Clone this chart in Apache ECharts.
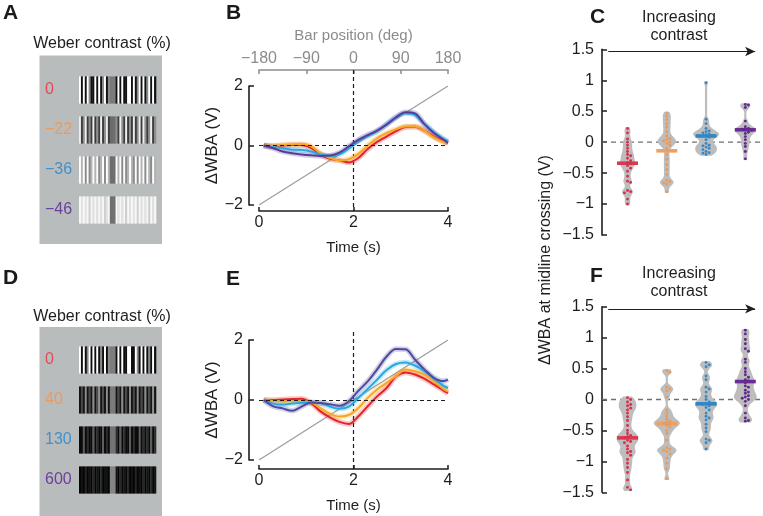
<!DOCTYPE html>
<html><head><meta charset="utf-8">
<script src="https://cdn.jsdelivr.net/npm/echarts@6/dist/echarts.min.js"></script>
<style>html,body{margin:0;padding:0;background:#fff}#c{width:763px;height:516px}</style>
</head><body><div id="c"></div>
<script>
const FONT = "'Liberation Sans', Arial, Helvetica, sans-serif";

// ---------- Panel A / D : stimulus patterns ----------
const contrastA = ['0', '\u221222', '\u221236', '\u221246'];
const contrastD = ['0', '40', '130', '600'];
const patternsA = [
  '2020210020201201bbb020200220201202012020',
  '2012010201020120bbb102102010201202101201',
  '2120201212012021bbb212020121020212021021',
  '2121202121212012bbb212120212120212120212'
];
const patternsD = [
  '2020120202010201bbb020200220021020201020',
  '0102010201201020bbb010201020102010201020',
  '0020100201002010bbb102010020100201010201',
  '0102010201020110bbb102010201020102010201'
];

// ---------- Panel B / E : traces ----------
const timeS = [0.1,0.3,0.5,0.7,0.9,1.1,1.3,1.5,1.7,1.9,2.1,2.3,2.5,2.7,2.9,3.1,3.3,3.5,3.7,3.9,4.0];
const diagLine = [[0, -2], [4, 2]];
const bRed    = [0,-0.02,0,0.02,0.02,-0.08,-0.3,-0.45,-0.5,-0.57,-0.42,-0.12,0.12,0.3,0.48,0.62,0.63,0.5,0.3,0.14,0.1];
const bOrange = [0,0,0.02,0.04,0.05,-0.02,-0.26,-0.42,-0.5,-0.46,-0.28,0,0.25,0.42,0.55,0.64,0.64,0.5,0.27,0.12,0.08];
const bCyan   = [0,-0.05,-0.09,-0.14,-0.15,-0.2,-0.3,-0.35,-0.3,-0.1,0.15,0.32,0.48,0.72,0.95,1.08,1.02,0.72,0.45,0.22,0.14];
const bPurple = [0,-0.09,-0.2,-0.26,-0.3,-0.33,-0.35,-0.34,-0.24,-0.03,0.19,0.35,0.5,0.7,0.95,1.12,1.08,0.72,0.42,0.2,0.08];
const eRed    = [0,0,0.02,0.03,0.04,-0.1,-0.38,-0.58,-0.73,-0.8,-0.55,-0.21,0.12,0.4,0.79,0.92,0.85,0.71,0.52,0.32,0.23];
const eOrange = [0,-0.03,-0.05,-0.04,-0.04,-0.08,-0.27,-0.46,-0.55,-0.5,-0.27,0.07,0.35,0.57,0.79,1.02,0.96,0.85,0.63,0.37,0.28];
const eCyan   = [0,-0.12,-0.15,-0.12,-0.09,-0.08,-0.1,-0.22,-0.29,-0.22,0.07,0.37,0.68,1.0,1.2,1.25,1.15,0.96,0.71,0.48,0.4];
const ePurple = [0,-0.21,-0.28,-0.36,-0.22,-0.08,-0.1,-0.14,-0.19,-0.04,0.3,0.62,1.02,1.45,1.7,1.69,1.35,1.02,0.74,0.63,0.68];

// ---------- Panel C / F : midline crossing values ----------
const cRed = [0.22,0.15,0.05,0.0,-0.05,-0.1,-0.15,-0.2,-0.22,-0.26,-0.3,-0.33,-0.35,-0.38,-0.42,-0.47,-0.55,-0.63,-0.65,-0.78,-0.8,-0.82,-0.92,-1.0];
const cOrange = [0.47,0.42,0.36,0.3,0.24,0.17,0.1,0.06,0.04,0.02,0.0,-0.02,-0.05,-0.1,-0.2,-0.28,-0.36,-0.44,-0.52,-0.62,-0.64,-0.66,-0.68,-0.8];
const cBlue = [0.96,0.37,0.3,0.22,0.18,0.17,0.15,0.13,0.12,0.11,0.1,0.08,0.04,-0.02,-0.05,-0.06,-0.08,-0.1,-0.12,-0.15,-0.17,-0.18,-0.2];
const cPurple = [0.61,0.6,0.56,0.34,0.25,0.22,0.21,0.2,0.19,0.16,0.14,0.09,0.04,-0.02,-0.07,-0.15,-0.27];
const cMeans = [-0.34, -0.14, 0.1, 0.2];
const fRed = [0.03,0.0,-0.04,-0.08,-0.1,-0.14,-0.17,-0.22,-0.28,-0.34,-0.42,-0.5,-0.55,-0.58,-0.6,-0.62,-0.66,-0.68,-0.7,-0.75,-0.8,-0.84,-0.86,-0.9,-0.97,-1.03,-1.1,-1.18,-1.3,-1.42,-1.46];
const fOrange = [0.47,0.44,0.2,0.17,0.14,0.04,-0.17,-0.22,-0.27,-0.32,-0.35,-0.37,-0.38,-0.4,-0.42,-0.45,-0.5,-0.55,-0.66,-0.78,-0.8,-0.82,-0.84,-0.88,-0.95,-1.03,-1.12,-1.28];
const fBlue = [0.6,0.56,0.53,0.38,0.32,0.2,0.17,0.12,0.05,0.0,-0.04,-0.06,-0.08,-0.1,-0.13,-0.17,-0.22,-0.27,-0.3,-0.33,-0.4,-0.46,-0.52,-0.64,-0.66,-0.7,-0.8];
const fPurple = [1.12,1.06,0.97,0.9,0.82,0.78,0.65,0.6,0.5,0.45,0.4,0.36,0.32,0.3,0.27,0.22,0.2,0.15,0.12,0.1,0.06,0.04,0.02,0.0,-0.03,-0.1,-0.22,-0.3,-0.34,-0.35];
const fMeans = [-0.62, -0.39, -0.07, 0.29];
const arrowSpan = [[0.51, 1.465], [4.25, 1.465]];

// ---------- styles ----------
const palA = [
  ['#111111','#8c8c8c','#ffffff','#7a7a7a'],
  ['#3d3d3d','#8f8f8f','#eeeeee','#6c6c6c'],
  ['#8a8a8a','#b4b4b4','#fdfdfd','#6e6e6e'],
  ['#cfcfcf','#e2e2e2','#f7f7f7','#6f6f6f']
];
const palD = [
  ['#0e0e0e','#8a8a8a','#ffffff','#7c7c7c'],
  ['#141414','#4a4a4a','#8e8e8e','#7a7a7a'],
  ['#0b0b0b','#2e2e2e','#5e5e5e','#737373'],
  ['#060606','#131313','#272727','#858585']
];
const labelColors = ['#e34a55','#f09a5a','#3f91cb','#6a3f9c'];
const dotColors = ['#d5304b','#e79b5f','#3a88c3','#5e2a8c'];
const barColors = ['#d93a50','#eea060','#2c87c9','#6a2c99'];
const ink = '#1e1e1e';

function minus(v) { return String(v).replace('-', '\u2212'); }

function stripeData(patterns) {
  const out = [];
  patterns.forEach((p, r) => {
    for (let i = 0; i < p.length; i++) {
      const ch = p[i];
      out.push([i, r, ch === 'b' ? 3 : Number(ch)]);
    }
  });
  return out;
}
function stripeRender(pal) {
  return function (params, api) {
    const i = api.value(0), r = api.value(1), code = api.value(2);
    const p0 = api.coord([i, r]);
    const p1 = api.coord([i + 1, r]);
    const bh = api.size([0, 1])[1] * 0.68;
    return {type: 'rect', shape: {x: p0[0], y: p0[1] - bh / 2, width: p1[0] - p0[0] + 0.3, height: bh},
      style: {fill: pal[r][code]}};
  };
}

function timeAxis(gi, off) {
  return {gridIndex: gi, type: 'value', min: 0, max: 4, interval: 2, position: 'bottom', offset: off,
    axisLine: {show: true, onZero: false, lineStyle: {color: ink, width: 1.6}},
    axisTick: {show: true, inside: true, length: 4, lineStyle: {color: ink, width: 1.5}},
    axisLabel: {fontSize: 16, color: ink, margin: 4, fontFamily: FONT},
    splitLine: {show: false},
    name: 'Time (s)', nameLocation: 'middle', nameGap: 29,
    nameTextStyle: {fontSize: 15, color: ink, fontFamily: FONT}};
}
function wbaAxis(gi) {
  return {gridIndex: gi, type: 'value', min: -2, max: 2, interval: 2, offset: 10,
    axisLine: {show: true, onZero: false, lineStyle: {color: ink, width: 1.6}},
    axisTick: {show: true, inside: true, length: 5, lineStyle: {color: ink, width: 1.5}},
    axisLabel: {fontSize: 16, color: ink, margin: 6, fontFamily: FONT, formatter: minus},
    splitLine: {show: false},
    name: '\u0394WBA (V)', nameLocation: 'middle', nameGap: 28,
    nameTextStyle: {fontSize: 17, color: ink, fontFamily: FONT}};
}
function crossAxis(gi) {
  return {gridIndex: gi, type: 'value', min: -1.5, max: 1.5, interval: 0.5,
    axisLine: {show: true, onZero: false, lineStyle: {color: ink, width: 1.6}},
    axisTick: {show: true, inside: true, length: 5, lineStyle: {color: ink, width: 1.5}},
    axisLabel: {fontSize: 16, color: ink, margin: 8, fontFamily: FONT, formatter: minus},
    splitLine: {show: false}};
}
function stripeYAxis(gi, cats) {
  return {gridIndex: gi, type: 'category', data: cats, inverse: true,
    axisLine: {show: false}, axisTick: {show: false}, splitLine: {show: false},
    axisLabel: {fontSize: 16, align: 'left', margin: 34, fontFamily: FONT,
      color: function (v, idx) { return labelColors[idx]; }}};
}

function traceSeries(xi, yi, arr, color) {
  const data = timeS.map((t, k) => [t, arr[k]]);
  return [
    {type: 'line', xAxisIndex: xi, yAxisIndex: yi, data: data, showSymbol: false, smooth: 0.35,
      lineStyle: {color: color, width: 5.5, opacity: 0.25}, z: 3, silent: true},
    {type: 'line', xAxisIndex: xi, yAxisIndex: yi, data: data, showSymbol: false, smooth: 0.35,
      lineStyle: {color: color, width: 2}, z: 4, silent: true}
  ];
}
function referenceSeries(xi, yi) {
  return {type: 'line', xAxisIndex: xi, yAxisIndex: yi, data: diagLine, showSymbol: false,
    lineStyle: {color: '#9c9c9c', width: 1.2}, z: 2, silent: true,
    markLine: {silent: true, symbol: 'none', label: {show: false},
      lineStyle: {color: ink, type: [4, 3], width: 1.2}, data: [{yAxis: 0}]}};
}

function violinSeries(xi, yi, groups, means) {
  const bw = 0.05;
  const dens = groups.map(vals => {
    const lo = Math.min(...vals) - 0.02, hi = Math.max(...vals) + 0.02;
    const pts = [];
    const n = Math.round((hi - lo) / 0.01);
    for (let k = 0; k <= n; k++) {
      const y = lo + (hi - lo) * k / n;
      let d = 0;
      vals.forEach(v => { const u = (y - v) / bw; d += Math.exp(-0.5 * u * u); });
      pts.push([y, d]);
    }
    return pts;
  });
  const maxD = Math.max(...dens.map(p => Math.max(...p.map(q => q[1]))));
  return {
    type: 'custom', xAxisIndex: xi, yAxisIndex: yi, z: 3, silent: true,
    data: means.map((m, i) => [i + 1, m]),
    renderItem: function (params, api) {
      const gi = params.dataIndex;
      const x = api.value(0);
      const cx = api.coord([x, 0])[0];
      const right = [], left = [];
      dens[gi].forEach(([y, d]) => {
        const py = api.coord([x, y])[1];
        const hw = Math.max(1.1, d / maxD * 13);
        right.push([cx + hw, py]); left.push([cx - hw, py]);
      });
      const poly = {type: 'polygon', shape: {points: right.concat(left.reverse())}, style: {fill: '#bdbdbd'}};
      const my = api.coord([x, api.value(1)])[1];
      const bar = {type: 'rect', shape: {x: cx - 10.5, y: my - 1.8, width: 21, height: 3.6}, style: {fill: barColors[gi]}};
      const vals = groups[gi].slice().sort((a, b) => b - a);
      const placed = [], dots = [];
      const r = 1.45, dd = 3.1;
      vals.forEach(v => {
        const py = api.coord([x, v])[1];
        let px = cx;
        for (let n = 0; n < 20; n++) {
          const off = n === 0 ? 0 : (n % 2 ? 1 : -1) * Math.ceil(n / 2) * dd;
          px = cx + off;
          if (!placed.some(p => (p[0] - px) * (p[0] - px) + (p[1] - py) * (p[1] - py) < dd * dd * 0.75)) break;
        }
        placed.push([px, py]);
        dots.push({type: 'circle', shape: {cx: px, cy: py, r: r}, style: {fill: dotColors[gi]}});
      });
      return {type: 'group', children: [poly, bar].concat(dots)};
    }
  };
}
function zeroAndArrow(xi, yi) {
  return {type: 'line', xAxisIndex: xi, yAxisIndex: yi, data: [[0.35, 0], [4.45, 0]], showSymbol: false,
    lineStyle: {color: '#6f6f6f', type: [5, 4], width: 1.3}, z: 1, silent: true,
    markLine: {silent: true, symbol: ['none', 'arrow'], symbolSize: [7, 10], label: {show: false},
      lineStyle: {color: ink, type: 'solid', width: 1.1},
      data: [[{coord: arrowSpan[0]}, {coord: arrowSpan[1]}]]}};
}

const chart = echarts.init(document.getElementById('c'));
const grids = [
  {left: 79, top: 70, width: 77, height: 160},
  {left: 79, top: 340, width: 77, height: 160},
  {left: 259, top: 86, width: 189, height: 119},
  {left: 259, top: 340, width: 189, height: 120},
  {left: 602, top: 49.3, width: 161, height: 185.7},
  {left: 602, top: 306.7, width: 161, height: 185.6}
].map(g => Object.assign({show: false, containLabel: false, outerBoundsMode: 'none'}, g));

const gray = '#8c8c8c';
const baseGraphic = [
  {id: 'boxA', type: 'rect', z: 0, shape: {x: 39.5, y: 55.5, width: 122.5, height: 188.5}, style: {fill: '#b9bcbd'}},
  {id: 'boxD', type: 'rect', z: 0, shape: {x: 39.5, y: 327, width: 122.5, height: 190}, style: {fill: '#b9bcbd'}},
  {id: 'wA', type: 'text', x: 102, y: 44, style: {text: 'Weber contrast (%)', fontSize: 16, fontFamily: FONT, fill: ink, align: 'center', verticalAlign: 'middle'}},
  {id: 'wD', type: 'text', x: 102, y: 317, style: {text: 'Weber contrast (%)', fontSize: 16, fontFamily: FONT, fill: ink, align: 'center', verticalAlign: 'middle'}},
  {id: 'icC', type: 'text', x: 679, y: 26.5, style: {text: 'Increasing\ncontrast', fontSize: 16, lineHeight: 18, fontFamily: FONT, fill: ink, align: 'center', verticalAlign: 'middle'}},
  {id: 'icF', type: 'text', x: 679, y: 283, style: {text: 'Increasing\ncontrast', fontSize: 16, lineHeight: 18, fontFamily: FONT, fill: ink, align: 'center', verticalAlign: 'middle'}},
  {id: 'ylab', type: 'text', x: 546, y: 260, rotation: Math.PI / 2, style: {text: '\u0394WBA at midline crossing (V)', fontSize: 16, fontFamily: FONT, fill: ink, align: 'center', verticalAlign: 'middle'}}
].concat([['A', 3, 13], ['B', 226, 13], ['C', 590, 17], ['D', 3, 278], ['E', 226, 279], ['F', 590, 276]].map(l => ({
  id: 'L' + l[0], type: 'text', x: l[1], y: l[2], z: 10,
  style: {text: l[0], fontSize: 21, fontWeight: 'bold', fontFamily: FONT, fill: '#1a1a1a', align: 'left', verticalAlign: 'middle'}
})));

const option = {
  animation: false,
  backgroundColor: '#ffffff',
  textStyle: {fontFamily: FONT},
  grid: grids,
  xAxis: [
    {gridIndex: 0, type: 'value', min: 0, max: 40, show: false},
    {gridIndex: 1, type: 'value', min: 0, max: 40, show: false},
    timeAxis(2, 6),
    {gridIndex: 2, type: 'value', position: 'top', min: -180, max: 180, interval: 90, offset: 16,
      axisLine: {show: true, onZero: false, lineStyle: {color: gray, width: 1.6}},
      axisTick: {show: true, inside: true, length: 4, lineStyle: {color: gray, width: 1.5}},
      axisLabel: {fontSize: 16, color: gray, margin: 3, fontFamily: FONT, formatter: minus},
      splitLine: {show: false},
      name: 'Bar position (deg)', nameLocation: 'middle', nameGap: 27,
      nameTextStyle: {fontSize: 15, color: gray, fontFamily: FONT}},
    timeAxis(3, 9),
    {gridIndex: 4, type: 'value', min: 0.35, max: 4.45, show: false},
    {gridIndex: 5, type: 'value', min: 0.35, max: 4.45, show: false}
  ],
  yAxis: [
    stripeYAxis(0, contrastA),
    stripeYAxis(1, contrastD),
    wbaAxis(2),
    wbaAxis(3),
    crossAxis(4),
    crossAxis(5)
  ],
  series: [
    {type: 'custom', xAxisIndex: 0, yAxisIndex: 0, data: stripeData(patternsA), renderItem: stripeRender(palA), silent: true},
    {type: 'custom', xAxisIndex: 1, yAxisIndex: 1, data: stripeData(patternsD), renderItem: stripeRender(palD), silent: true},
    referenceSeries(2, 2),
    ...traceSeries(2, 2, bRed, '#e3222b'),
    ...traceSeries(2, 2, bOrange, '#f7a823'),
    ...traceSeries(2, 2, bCyan, '#25a9e0'),
    ...traceSeries(2, 2, bPurple, '#5a3b98'),
    referenceSeries(4, 3),
    ...traceSeries(4, 3, eRed, '#e3222b'),
    ...traceSeries(4, 3, eOrange, '#f7a823'),
    ...traceSeries(4, 3, eCyan, '#25a9e0'),
    ...traceSeries(4, 3, ePurple, '#4f4a9f'),
    zeroAndArrow(5, 4),
    violinSeries(5, 4, [cRed, cOrange, cBlue, cPurple], cMeans),
    zeroAndArrow(6, 5),
    violinSeries(6, 5, [fRed, fOrange, fBlue, fPurple], fMeans)
  ],
  graphic: baseGraphic
};
chart.setOption(option);

// vertical dashed midline (t = 2 s) spanning between the offset axes
const xB = chart.convertToPixel({xAxisIndex: 2}, 2);
const xE = chart.convertToPixel({xAxisIndex: 4}, 2);
const dash = {stroke: ink, lineWidth: 1.2, lineDash: [4, 3]};
chart.setOption({graphic: baseGraphic.concat([
  {id: 'vB', type: 'line', z: 1, shape: {x1: xB, y1: 70, x2: xB, y2: 211}, style: dash},
  {id: 'vE', type: 'line', z: 1, shape: {x1: xE, y1: 332, x2: xE, y2: 469}, style: dash}
])});
</script>
</body></html>
